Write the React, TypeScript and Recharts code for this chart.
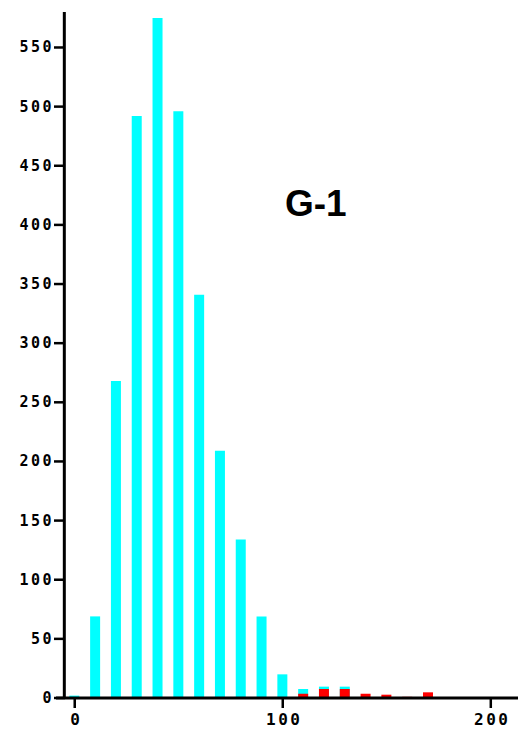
import React from "react";
import { BarChart, Bar, XAxis, YAxis, ReferenceLine } from "recharts";

// histogram bins (lower edge)
const bins = [0, 10, 20, 30, 40, 50, 60, 70, 80, 90, 100, 110, 120, 130, 140, 150, 160, 170, 180, 190, 200];
// all cells (cyan)
const totalCounts = [2, 69, 268, 492, 575, 496, 341, 209, 134, 69, 20, 7.6, 9.6, 9.6, 0, 0, 0, 0, 0, 0, 0];
// positive cells (red)
const positiveCounts = [0, 0, 0, 0, 0, 0, 0, 0, 0, 0, 0, 3.6, 7.6, 7.6, 3.6, 2.8, 1, 4.8, 0, 0, 0];

const yTicks = [0, 50, 100, 150, 200, 250, 300, 350, 400, 450, 500, 550];
const xTicks = [0, 100, 200];

const data = bins.map((bin, i) => ({
  bin,
  total: totalCounts[i],
  positive: positiveCounts[i],
}));

const tickFont = {
  fontFamily: "'DejaVu Sans Mono', monospace",
  fontWeight: "bold" as const,
  letterSpacing: 2.5,
  fill: "#000",
};

const YTick = ({ x, y, payload }: any) => (
  <g>
    <line x1={x - 2} x2={x + 9} y1={y} y2={y} stroke="#000" strokeWidth={2.5} />
    <text x={x - 2} y={y} dy={5} textAnchor="end" fontSize={15} style={tickFont}>
      {payload.value}
    </text>
  </g>
);

const XTick = ({ x, y, payload }: any) => (
  <text x={x + 1.5} y={y} dy={12} textAnchor="middle" fontSize={16} style={tickFont}>
    {payload.value}
  </text>
);

export default function App() {
  return (
    <div style={{ position: "relative", width: 518, height: 734 }}>
      <BarChart
        width={518}
        height={734}
        data={data}
        margin={{ top: 4, right: 4, left: 8, bottom: 14 }}
        barGap={-10}
      >
        <XAxis
          dataKey="bin"
          type="number"
          domain={[-9, 215]}
          ticks={xTicks}
          allowDataOverflow
          stroke="#000"
          strokeWidth={3}
          tickSize={10}
          tickMargin={5}
          tickLine={{ stroke: "#000", strokeWidth: 2.5 }}
          tick={<XTick />}
          height={30}
        />
        <YAxis
          type="number"
          domain={[0, 580]}
          ticks={yTicks}
          axisLine={false}
          tickLine={false}
          tickSize={0}
          tickMargin={0}
          width={40}
          tick={<YTick />}
        />
        <Bar dataKey="total" fill="#00FFFF" barSize={10} isAnimationActive={false} />
        <Bar dataKey="positive" fill="#FF0000" barSize={10} isAnimationActive={false} />
        <ReferenceLine x={-5} stroke="#000" strokeWidth={3} />
      </BarChart>
      <div
        style={{
          position: "absolute",
          left: 277,
          top: 177,
          fontFamily: "'Liberation Sans', Arial, sans-serif",
          fontWeight: "bold",
          fontSize: 37,
          lineHeight: 1,
          color: "#000",
        }}
      >
        G-1
      </div>
    </div>
  );
}
